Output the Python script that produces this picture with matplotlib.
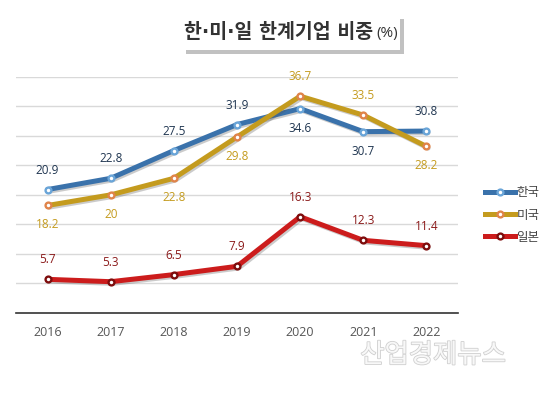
import matplotlib
matplotlib.use("Agg")
import matplotlib.pyplot as plt
import matplotlib.patheffects as pe
from matplotlib.lines import Line2D
from matplotlib.patches import Rectangle

plt.rcParams['font.family'] = ['Open Sans', 'Noto Sans CJK KR', 'DejaVu Sans']

years = ['2016', '2017', '2018', '2019', '2020', '2021', '2022']
korea = [20.9, 22.8, 27.5, 31.9, 34.6, 30.7, 30.8]
usa = [18.2, 20, 22.8, 29.8, 36.7, 33.5, 28.2]
japan = [5.7, 5.3, 6.5, 7.9, 16.3, 12.3, 11.4]
series_names = ['한국', '미국', '일본']
korea_pos = ['a', 'a', 'a', 'a', 'b', 'b', 'a']
usa_pos = ['b', 'b', 'b', 'b', 'a', 'a', 'b']
japan_pos = ['a'] * 7

W, H = 548, 411
fig = plt.figure(figsize=(W/100, H/100), dpi=100)
ax = fig.add_axes([16/W, 1-313/H, 442/W, (313-76.7)/H])

x = [i + 0.5 for i in range(len(years))]

styles = [
    (korea, korea_pos, '#3a72ab', '#6aa5d8', '#1f3550'),
    (usa, usa_pos, '#c49b1e', '#e0844a', '#c49b1e'),
    (japan, japan_pos, '#cc1c1c', '#7e0d0d', '#8b1a1a'),
]

shadow = [pe.SimpleLineShadow(offset=(1.2, -1.2), shadow_color='#555555', alpha=0.3), pe.Normal()]

handles = []
for (vals, pos, lc, mc, tc), name in zip(styles, series_names):
    ax.plot(x, vals, color=lc, lw=3.6, solid_capstyle='round', zorder=3,
            path_effects=shadow)
    ax.plot(x, vals, ls='none', marker='o', markersize=4.2, markerfacecolor='white',
            markeredgecolor=mc, markeredgewidth=1.7, zorder=4)
    for xi, v, p in zip(x, vals, pos):
        off = 14 if p == 'a' else -14
        lab = ('%g' % v)
        ax.annotate(lab, (xi, v), xytext=(0, off), textcoords='offset points',
                    ha='center', va='center', fontsize=8.5, color=tc, zorder=5)
    handles.append(Line2D([0], [0], color=lc, lw=3.6, marker='o', markersize=4.2,
                          markerfacecolor='white', markeredgecolor=mc, markeredgewidth=1.7))

ax.set_xlim(0, 7)
ax.set_ylim(0, 40)
ax.set_yticks(range(5, 41, 5))
ax.yaxis.grid(True, color='#d9d9d9', lw=1)
ax.set_axisbelow(True)
ax.tick_params(axis='y', left=False, labelleft=False)
ax.set_xticks(x)
ax.set_xticklabels(years)
ax.tick_params(axis='x', length=0, pad=9, labelsize=9, labelcolor='#555555')
for s in ['left', 'right', 'top']:
    ax.spines[s].set_visible(False)
ax.spines['bottom'].set_color('#333333')
ax.spines['bottom'].set_linewidth(1.2)

leg = fig.legend(handles, series_names, loc='center left', bbox_to_anchor=(474/W, 1-215/H),
                 frameon=False, handlelength=2.4, handletextpad=0.1, labelspacing=0.75,
                 prop={'family': ['Noto Sans CJK KR', 'DejaVu Sans'], 'size': 9})
for t in leg.get_texts():
    t.set_color('#444444')

# title box
box = Rectangle((182/W, 1-50/H), (400-182)/W, 35/H, transform=fig.transFigure,
                facecolor='white', edgecolor='none', zorder=1,
                path_effects=[pe.SimplePatchShadow(offset=(3, -3), shadow_rgbFace='#999999', alpha=0.6), pe.Normal()])
fig.patches.append(box)
t1 = fig.text(184/W, 1-32/H, '한·미·일 한계기업 비중', ha='left', va='center',
              fontsize=14, fontweight='bold', color='#333333',
              family=['DejaVu Sans', 'Noto Sans CJK KR'], zorder=3)
fig.canvas.draw()
bb = t1.get_window_extent(renderer=fig.canvas.get_renderer())
fig.text((bb.x1 + 3)/W, 1-33/H, '(%)', ha='left', va='center', fontsize=11,
         color='#333333', zorder=3)

# watermark
fig.text(433/W, 1-355/H, '산업경제뉴스', ha='center', va='center', fontsize=19,
         color='#f8f8f8', family=['Noto Sans CJK KR', 'DejaVu Sans'],
         path_effects=[pe.Stroke(linewidth=1.2, foreground='#cfcfcf'), pe.Normal()])

fig.savefig('out.png', dpi=100, facecolor='white')
